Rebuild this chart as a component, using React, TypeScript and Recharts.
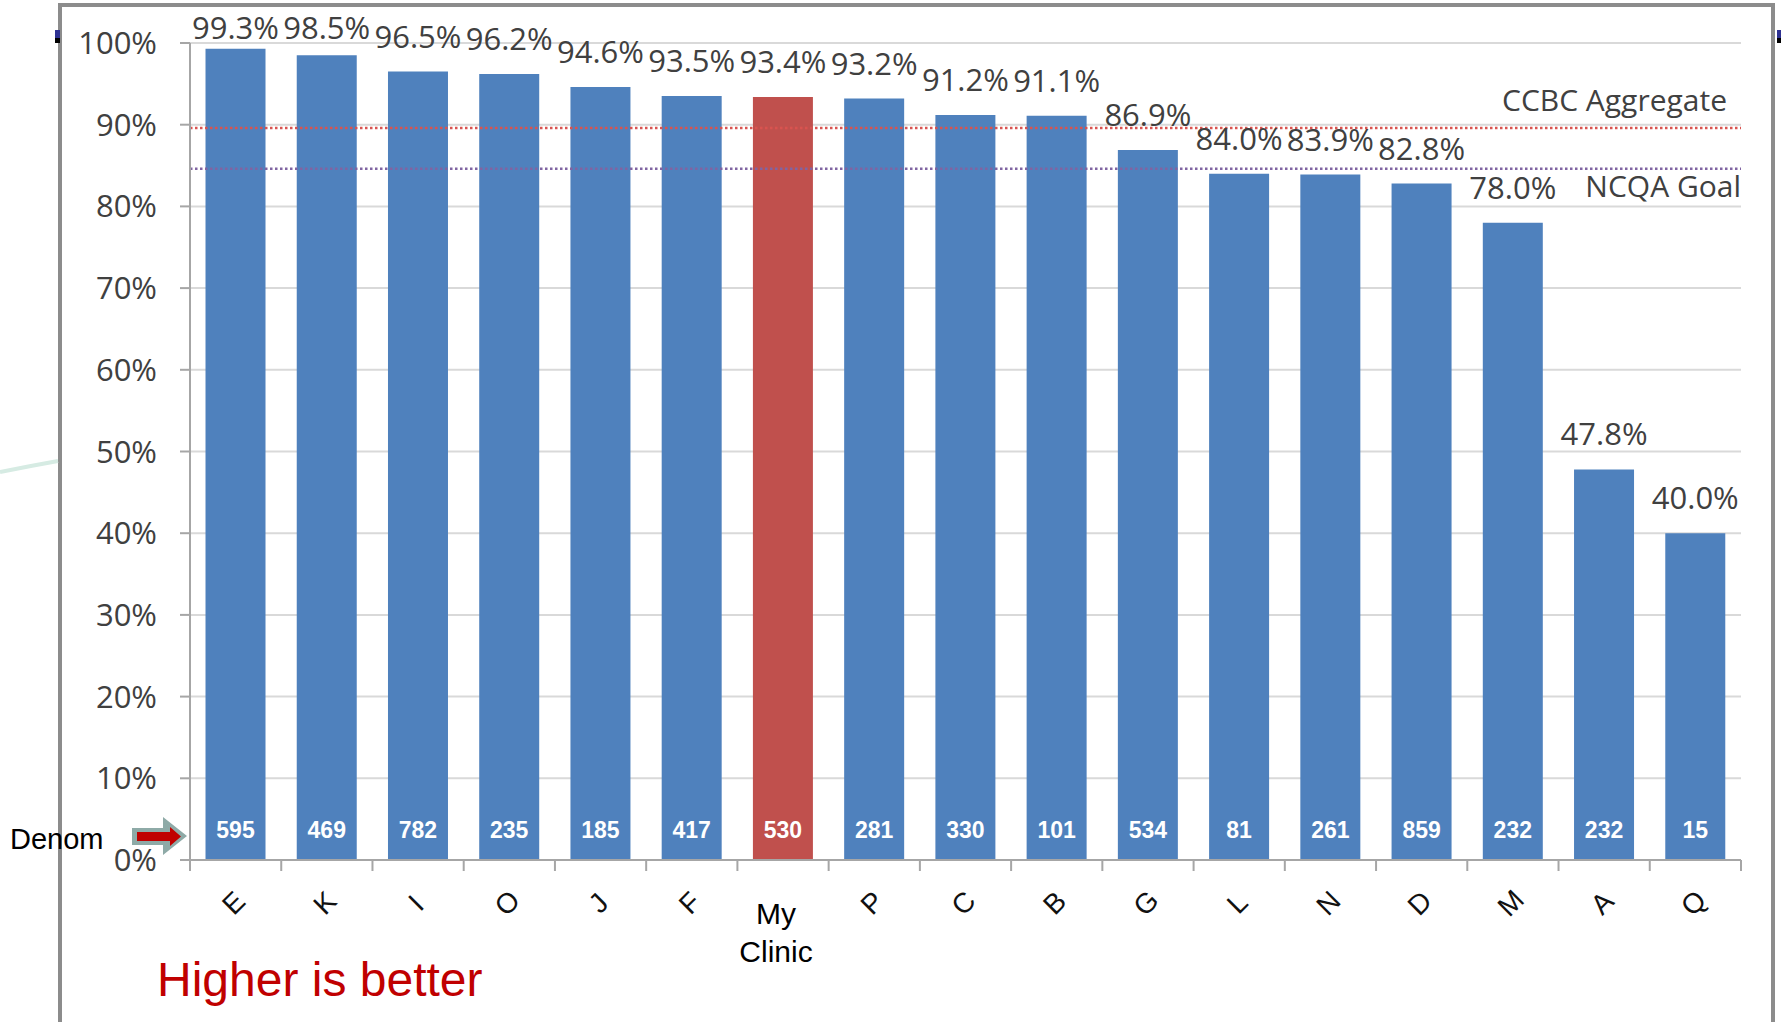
import { BarChart, Bar, XAxis, YAxis, CartesianGrid, ReferenceLine, LabelList, Cell } from 'recharts';

const categories = ['E', 'K', 'I', 'O', 'J', 'F', 'My Clinic', 'P', 'C', 'B', 'G', 'L', 'N', 'D', 'M', 'A', 'Q'];
const rates = [99.3, 98.5, 96.5, 96.2, 94.6, 93.5, 93.4, 93.2, 91.2, 91.1, 86.9, 84.0, 83.9, 82.8, 78.0, 47.8, 40.0];
const denominators = [595, 469, 782, 235, 185, 417, 530, 281, 330, 101, 534, 81, 261, 859, 232, 232, 15];
const yTicks = [0, 10, 20, 30, 40, 50, 60, 70, 80, 90, 100];
const ccbcAggregate = 89.6;
const ncqaGoal = 84.6;
const myClinic = 'My Clinic';

const W = 1781;
const H = 1022;
const MARGIN = { top: 43, right: 40, bottom: 100, left: 0 };
const Y_AXIS_W = 190;
const X_AXIS_H = 62;
const BAND = (W - MARGIN.right - Y_AXIS_W) / categories.length;

const BLUE = '#4f81bd';
const RED = '#c0504d';
const GREY_TEXT = '#404040';
const CALIBRI = '"Open Sans", Lato, sans-serif';
const ARIAL = '"Liberation Sans Narrow", "Liberation Sans", Arial, sans-serif';

const data = categories.map((name, i) => ({ name, rate: rates[i], denom: denominators[i] }));

function XTick(props: any) {
  const { x, y, payload, index } = props;
  const half = payload?.offset || BAND / 2;
  const isLast = index === categories.length - 1;
  const ticks = (
    <g stroke="#a6a6a6" strokeWidth={2}>
      <line x1={x - half} x2={x - half} y1={y} y2={y + 11} />
      {isLast && <line x1={x + half} x2={x + half} y1={y} y2={y + 11} />}
    </g>
  );
  if (payload.value === myClinic) {
    return (
      <g>
        {ticks}
        <text x={x - 7} y={y + 64} textAnchor="middle" fontFamily={ARIAL} fontSize={30} fill="#000">My</text>
        <text x={x - 7} y={y + 102} textAnchor="middle" fontFamily={ARIAL} fontSize={30} fill="#000">Clinic</text>
      </g>
    );
  }
  return (
    <g>
      {ticks}
      <text
        x={x - 2}
        y={y + 43}
        textAnchor="middle"
        dominantBaseline="central"
        fontFamily={ARIAL}
        fontSize={28}
        fill="#111"
        transform={`rotate(-45 ${x - 2} ${y + 43})`}
      >
        {payload.value}
      </text>
    </g>
  );
}

function RateLabel(props: any) {
  const { x, y, width, value } = props;
  // labels that would run off the top are held just under the chart top, as in the original
  const base = Math.max(y - 24, 39);
  return (
    <text x={x + width / 2} y={base} textAnchor="middle" fontFamily={CALIBRI} fontSize={31} fill={GREY_TEXT}>
      {Number(value).toFixed(1)}%
    </text>
  );
}

function RefLabel(props: any) {
  const { viewBox, value, above } = props;
  const right = viewBox.x + viewBox.width;
  return (
    <text
      x={above ? right - 14 : right}
      y={above ? viewBox.y - 17 : viewBox.y + 28}
      textAnchor="end"
      fontFamily={CALIBRI}
      fontSize={30}
      fill={GREY_TEXT}
    >
      {value}
    </text>
  );
}

export default function App() {
  return (
    <div style={{ position: 'fixed', left: 0, top: 0, width: W, height: H, background: '#fff', overflow: 'hidden' }}>
      {/* slide frame */}
      <div style={{ position: 'absolute', left: 58, top: 3, width: 1717, height: 1100, border: '4px solid #8c8c8c', borderBottom: 'none', boxSizing: 'border-box' }} />
      <div style={{ position: 'absolute', left: 55, top: 30, width: 5, height: 8, background: '#2e3192' }} />
      <div style={{ position: 'absolute', left: 55, top: 38, width: 5, height: 5, background: '#000' }} />
      <div style={{ position: 'absolute', left: 1777, top: 30, width: 4, height: 8, background: '#2e3192' }} />
      <div style={{ position: 'absolute', left: 1777, top: 38, width: 4, height: 5, background: '#000' }} />

      <div style={{ position: 'absolute', left: 0, top: 0 }}>
        <BarChart width={W} height={H} data={data} margin={MARGIN} barCategoryGap="17%">
          <CartesianGrid vertical={false} stroke="#d9d9d9" strokeWidth={2} />
          <XAxis
            dataKey="name"
            interval={0}
            height={X_AXIS_H}
            tickLine={false}
            tickSize={0}
            tickMargin={0}
            axisLine={{ stroke: '#a6a6a6', strokeWidth: 2 }}
            tick={<XTick />}
          />
          <YAxis
            width={Y_AXIS_W}
            domain={[0, 100]}
            ticks={yTicks}
            interval={0}
            tickFormatter={(v: number) => `${v}%`}
            tickSize={10}
            tickMargin={23}
            tickLine={{ stroke: '#a6a6a6', strokeWidth: 2 }}
            axisLine={{ stroke: '#a6a6a6', strokeWidth: 2 }}
            tick={{ fill: GREY_TEXT, fontSize: 31, fontFamily: CALIBRI }}
          />
          <Bar dataKey="rate" isAnimationActive={false}>
            {data.map(d => (
              <Cell key={d.name} fill={d.name === myClinic ? RED : BLUE} />
            ))}
            <LabelList dataKey="rate" content={<RateLabel />} />
            <LabelList
              dataKey="denom"
              position="insideBottom"
              offset={22}
              fill="#fff"
              fontSize={23}
              fontWeight="bold"
              fontFamily={ARIAL}
            />
          </Bar>
          <ReferenceLine
            y={ccbcAggregate}
            stroke="#d9534f"
            strokeWidth={2.5}
            strokeDasharray="2.5 2.5"
            label={<RefLabel value="CCBC Aggregate" above />}
          />
          <ReferenceLine
            y={ncqaGoal}
            stroke="#8064a2"
            strokeWidth={2.5}
            strokeDasharray="2.5 2.5"
            label={<RefLabel value="NCQA Goal" />}
          />
        </BarChart>
      </div>

      <svg width={W} height={H} style={{ position: 'absolute', left: 0, top: 0, pointerEvents: 'none' }}>
        <path d="M0,472 Q30,466 58,461" stroke="#d6ebe3" strokeWidth={4} fill="none" />
        <path d="M132,828 L163,828 L163,817 L187,836 L163,855 L163,845 L132,845 Z" fill="#8eaaa7" />
        <path d="M137,832 L170,832 L170,827 L181,836.5 L170,846 L170,841 L137,841 Z" fill="#c00000" />
        <text x={10} y={849} fontFamily='"Liberation Sans", Arial, sans-serif' fontSize={29} fill="#000">Denom</text>
        <text x={157} y={996} fontFamily='"Liberation Sans", Arial, sans-serif' fontSize={48} fill="#c00000">Higher is better</text>
      </svg>
    </div>
  );
}
